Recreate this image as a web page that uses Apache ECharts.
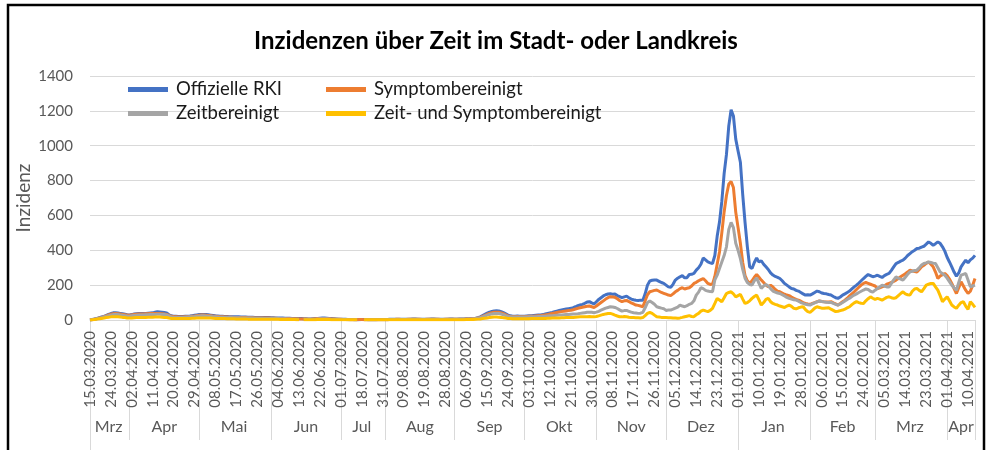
<!DOCTYPE html>
<html>
<head>
<meta charset="utf-8">
<script src="https://cdn.jsdelivr.net/npm/echarts@6/dist/echarts.min.js"></script>
<style>
  html, body { margin: 0; padding: 0; background: #fff; }
  #chart { width: 992px; height: 450px; }
</style>
</head>
<body>
<div id="chart"></div>
<script>
// Kategorien: Tage 15.03.2020 - 13.04.2021, einige Tage im Juli/August fehlen in den Daten
const monthNames = ['Jan', 'Feb', 'Mrz', 'Apr', 'Mai', 'Jun', 'Jul', 'Aug', 'Sep', 'Okt', 'Nov', 'Dez']
const skippedDays = [
  '03.07.2020', '04.07.2020', '05.07.2020', '06.07.2020', '07.07.2020', '08.07.2020', '09.07.2020', '10.07.2020',
  '21.07.2020', '22.07.2020', '23.07.2020', '24.07.2020',
  '15.08.2020'
]

// Offizielle RKI
const rkiValues = [
  0, 3, 6, 9, 13, 17, 21, 26, 32, 37, 41, 42, 40, 38, 36, 33, 30, // Mrz
  29, 31, 34, 36, 37, 38, 37, 38, 39, 40, 41, 44, 47, 46, 45, 43, 40, 30, 24, 22, 21, 20, 20, 20, 21, 22, 23, 25, 27, 29, // Apr
  31, 32, 32, 31, 30, 28, 26, 24, 23, 22, 21, 20, 20, 19, 19, 18, 18, 18, 17, 17, 17, 16, 16, 16, 15, 15, 15, 15, 14, 14, 14, // Mai
  13, 13, 12, 12, 11, 11, 10, 10, 10, 9, 9, 8, 8, 8, 7, 7, 6, 6, 7, 8, 9, 10, 11, 11, 10, 9, 8, 7, 6, 5, // Jun
  5, 4, 4, 3, 3, 3, 2, 2, 2, 3, 3, 3, 2, 2, 2, 2, 3, 3, 3, // Jul
  3, 3, 4, 4, 4, 5, 5, 4, 4, 4, 5, 5, 6, 6, 5, 5, 4, 4, 5, 5, 6, 6, 5, 5, 4, 4, 5, 5, 6, 6, // Aug
  5, 5, 6, 6, 6, 7, 7, 8, 9, 10, 13, 18, 25, 32, 39, 45, 49, 52, 53, 52, 48, 42, 35, 28, 24, 22, 22, 23, 22, 22, // Sep
  22, 23, 24, 25, 26, 27, 28, 29, 31, 34, 37, 40, 43, 47, 51, 55, 58, 61, 63, 65, 67, 71, 76, 82, 86, 90, 96, 103, 105, 98, 92, // Okt
  105, 118, 128, 138, 145, 149, 150, 148, 149, 140, 134, 128, 133, 137, 128, 120, 116, 113, 112, 114, 113, 150, 200, 224, 228, 230, 229, 222, 215, 210, // Nov
  200, 190, 187, 205, 229, 240, 248, 254, 242, 243, 261, 262, 267, 286, 300, 320, 356, 345, 333, 328, 324, 370, 480, 562, 680, 840, 950, 1114, 1206, 1171, 1038, // Dez
  970, 905, 720, 560, 420, 305, 295, 330, 356, 333, 340, 320, 305, 290, 270, 258, 250, 245, 238, 225, 210, 200, 190, 181, 178, 170, 166, 158, 150, 143, 145, // Jan
  143, 150, 158, 166, 162, 155, 152, 150, 146, 143, 135, 128, 124, 132, 143, 150, 158, 166, 178, 190, 200, 212, 225, 238, 250, 261, 255, 248, // Feb
  252, 257, 250, 244, 255, 262, 267, 285, 305, 324, 330, 338, 343, 355, 370, 381, 392, 400, 410, 412, 418, 423, 435, 448, 440, 429, 438, 448, 440, 420, 395, // Mrz
  360, 333, 305, 275, 251, 270, 305, 325, 343, 328, 345, 355, 371 // Apr
]

// Symptombereinigt
const symptomValues = [
  0, 2, 5, 8, 11, 15, 19, 24, 29, 33, 36, 37, 36, 34, 32, 30, 28,
  27, 29, 31, 33, 34, 35, 35, 36, 36, 37, 37, 38, 38, 37, 36, 34, 32, 26, 21, 19, 18, 17, 17, 17, 18, 19, 20, 22, 23, 25,
  27, 28, 28, 27, 26, 24, 22, 21, 20, 19, 18, 17, 17, 16, 16, 15, 15, 15, 14, 14, 14, 13, 13, 13, 12, 12, 12, 12, 11, 11, 11,
  10, 10, 10, 9, 9, 9, 8, 8, 8, 7, 7, 7, 6, 6, 6, 6, 5, 5, 6, 7, 8, 8, 9, 9, 8, 7, 6, 6, 5, 4,
  4, 3, 3, 3, 2, 2, 2, 2, 3, 3, 2, 2, 2, 2, 2, 2, 2, 2, 2,
  2, 2, 3, 3, 3, 4, 4, 3, 3, 3, 4, 4, 5, 5, 4, 4, 3, 3, 4, 4, 5, 5, 4, 4, 3, 3, 4, 4, 5, 5,
  4, 4, 5, 5, 5, 6, 6, 7, 8, 9, 11, 15, 21, 27, 33, 38, 42, 44, 45, 44, 41, 36, 30, 24, 20, 19, 19, 20, 19, 19,
  19, 20, 21, 22, 22, 23, 24, 25, 27, 29, 31, 34, 37, 40, 43, 46, 48, 50, 52, 54, 56, 59, 63, 67, 70, 73, 76, 79, 80, 76, 72,
  80, 90, 100, 110, 120, 128, 134, 132, 130, 122, 112, 105, 110, 112, 106, 98, 92, 86, 84, 80, 76, 110, 145, 162, 166, 170, 172, 165, 158, 153,
  148, 143, 140, 150, 162, 170, 180, 185, 178, 182, 185, 195, 210, 216, 225, 232, 238, 225, 210, 204, 206, 250, 320, 390, 500, 620, 714, 780, 794, 760, 619,
  530, 440, 330, 255, 225, 210, 225, 245, 261, 245, 229, 215, 200, 190, 200, 190, 175, 165, 162, 155, 148, 143, 140, 132, 125, 118, 114, 108, 100, 95, 92,
  90, 95, 100, 105, 109, 106, 104, 103, 104, 105, 98, 92, 86, 95, 105, 114, 125, 138, 150, 162, 175, 188, 200, 210, 215, 210, 205, 200,
  195, 181, 185, 190, 195, 205, 210, 215, 222, 229, 238, 248, 257, 265, 275, 286, 282, 278, 276, 290, 305, 314, 325, 333, 320, 305, 275, 238, 252, 260, 267,
  255, 235, 210, 180, 152, 185, 219, 195, 171, 152, 165, 200, 238
]

// Zeitbereinigt
const zeitValues = [
  0, 2, 4, 7, 10, 13, 17, 21, 25, 28, 31, 32, 31, 29, 27, 25, 23,
  22, 24, 26, 27, 28, 29, 29, 30, 30, 31, 31, 32, 33, 33, 32, 31, 29, 23, 18, 16, 15, 15, 15, 15, 16, 17, 18, 19, 20, 22,
  23, 24, 24, 23, 22, 21, 19, 18, 17, 16, 16, 15, 15, 14, 14, 13, 13, 13, 12, 12, 12, 11, 11, 11, 10, 10, 10, 10, 9, 9, 9,
  9, 8, 8, 8, 7, 7, 7, 6, 6, 6, 5, 5, 5, null, 5, 5, 4, 4, 5, 5, 6, 7, 7, 7, 7, 6, 5, 5, 4, 4,
  3, 3, 3, 2, 2, 2, 2, 2, null, null, 2, 2, 2, 2, 2, 2, 2, 2, 2,
  2, 2, 3, 3, 3, 3, 3, 3, 3, 3, 3, 4, 4, 4, 4, 3, 3, 3, 3, 4, 4, 4, 4, 3, 3, 3, 3, 4, 4, 4,
  4, 4, 4, 5, 5, 5, 6, 6, 7, 8, 10, 13, 18, 23, 28, 32, 35, 37, 38, 37, 34, 30, 25, 21, 18, 17, 17, 17, 17, 17,
  17, 17, 18, 18, 19, 19, 20, 20, 21, 22, 23, 24, 25, 26, 27, 28, 29, 30, 31, 32, 33, 34, 35, 36, 38, 40, 42, 44, 45, 44, 42,
  45, 50, 56, 62, 68, 72, 76, 75, 72, 66, 58, 51, 54, 55, 50, 45, 42, 40, 38, 39, 44, 70, 100, 109, 100, 90, 76, 72, 68, 65,
  55, 57, 57, 62, 68, 74, 86, 80, 76, 82, 90, 95, 110, 143, 160, 185, 180, 170, 166, 163, 162, 230, 257, 295, 333, 370, 420, 520, 560, 530, 440,
  400, 352, 290, 240, 215, 204, 200, 225, 242, 210, 181, 195, 204, 195, 180, 166, 160, 155, 152, 145, 138, 130, 124, 120, 116, 114, 108, 100, 95, 90, 88,
  86, 92, 98, 104, 109, 106, 104, 102, 101, 101, 95, 90, 86, 92, 100, 109, 118, 125, 135, 143, 150, 158, 165, 172, 178, 175, 165, 160,
  171, 181, 190, 200, 195, 190, 190, 210, 230, 248, 240, 235, 229, 245, 262, 276, 280, 284, 286, 300, 315, 324, 328, 333, 330, 326, 324, 300, 276, 266, 257,
  240, 220, 200, 185, 171, 215, 257, 262, 267, 230, 190, 195, 200
]

// Zeit- und Symptombereinigt
const zeitSymptomValues = [
  0, 1, 3, 5, 7, 9, 11, 14, 16, 18, 19, 19, 18, 17, 15, 14, 12,
  11, 12, 13, 14, 14, 15, 15, 15, 16, 16, 16, 17, 17, 17, 16, 15, 14, 11, 9, 8, 8, 8, 8, 8, 8, 9, 9, 10, 10, 11,
  12, 12, 12, 12, 11, 11, 10, 9, 9, 8, 8, 8, 7, 7, 7, 7, 6, 6, 6, 6, 6, 5, 5, 5, 5, 5, 5, 5, 4, 4, 4,
  4, 4, 4, 4, 3, 3, 3, 3, 3, 3, 3, 2, 2, null, 2, 2, 2, 2, 2, 2, 3, 3, 3, 3, 3, 3, 2, 2, 2, 2,
  1, 1, 1, 1, 1, 1, 1, 1, null, null, 1, 1, 1, 1, 1, 1, 1, 1, 1,
  1, 1, 1, 1, 1, 2, 2, 1, 1, 1, 2, 2, 2, 2, 2, 1, 1, 1, 2, 2, 2, 2, 2, 1, 1, 1, 2, 2, 2, 2,
  2, 2, 2, 2, 2, 3, 3, 3, 3, 4, 5, 6, 8, 10, 12, 14, 16, 17, 17, 16, 15, 13, 11, 9, 8, 7, 7, 7, 7, 7,
  7, 7, 7, 8, 8, 8, 8, 9, 9, 9, 10, 10, 11, 11, 12, 12, 13, 13, 14, 14, 15, 15, 16, 17, 18, 18, 19, 19, 20, 19, 18,
  20, 24, 28, 32, 35, 37, 38, 34, 28, 23, 19, 18, 20, 19, 16, 14, 14, 13, 13, 12, 14, 25, 38, 44, 38, 28, 19, 17, 15, 14,
  14, 13, 13, 12, 11, 10, 12, 15, 19, 22, 25, 20, 19, 30, 38, 51, 57, 52, 48, 55, 67, 95, 124, 115, 105, 128, 152, 158, 162, 150, 133,
  140, 147, 120, 95, 100, 110, 124, 135, 143, 115, 86, 100, 118, 124, 105, 95, 90, 86, 80, 76, 72, 80, 86, 78, 67, 64, 70, 74, 76, 60, 48,
  44, 55, 68, 76, 72, 68, 67, 69, 70, 62, 55, 48, 50, 54, 57, 62, 70, 76, 88, 98, 105, 100, 96, 95, 110, 122, 133, 125,
  118, 124, 120, 114, 122, 130, 133, 128, 124, 128, 140, 152, 162, 150, 145, 143, 165, 178, 181, 170, 162, 180, 200, 205, 210, 210, 190, 171, 140, 105, 120,
  133, 110, 86, 75, 67, 85, 100, 105, 80, 61, 105, 90, 72
]

// Kategorien aufbauen
const dateLabels = []
const monthLabels = []
const monthStarts = []
const yearStarts = []
let day = new Date(Date.UTC(2020, 2, 15))
const lastDay = new Date(Date.UTC(2021, 3, 13))
while (day <= lastDay) {
  let dd = String(day.getUTCDate()).padStart(2, '0')
  let mm = String(day.getUTCMonth() + 1).padStart(2, '0')
  let label = dd + '.' + mm + '.' + day.getUTCFullYear()
  if (!skippedDays.includes(label)) {
    if (dateLabels.length === 0 || day.getUTCDate() === 1) monthStarts.push(dateLabels.length)
    if (dateLabels.length === 0 || (day.getUTCDate() === 1 && day.getUTCMonth() === 0)) yearStarts.push(dateLabels.length)
    dateLabels.push(label)
    monthLabels.push(monthNames[day.getUTCMonth()])
  }
  day.setUTCDate(day.getUTCDate() + 1)
}
const monthCenters = monthStarts.map((s, k) => {
  let next = k + 1 < monthStarts.length ? monthStarts[k + 1] : dateLabels.length - 1
  return Math.floor((s + next) / 2)
})
// Trennlinie auch am Ende der Achse
const monthTicks = monthStarts.concat([dateLabels.length - 1])

const fontName = 'Lato'
const gridColor = '#D9D9D9'
const labelColor = '#595959'

function lineSeries (name, values, color) {
  return {
    name: name,
    type: 'line',
    data: values,
    showSymbol: false,
    symbol: 'none',
    lineStyle: { width: 3, color: color },
    itemStyle: { color: color },
    xAxisIndex: 0
  }
}

let legendBase = {
  orient: 'vertical',
  top: 80,
  padding: 0,
  icon: 'rect',
  itemWidth: 40,
  itemHeight: 5,
  itemGap: 5,
  textStyle: { fontFamily: fontName, fontSize: 18.5, color: '#1a1a1a', padding: [0, 0, 0, 3] }
}

let option = {
  animation: false,
  backgroundColor: '#fff',
  textStyle: { fontFamily: fontName },
  title: {
    text: 'Inzidenzen über Zeit im Stadt- oder Landkreis',
    left: 'center',
    top: 24,
    textStyle: { fontFamily: fontName, fontSize: 24, fontWeight: 'bold', color: '#000' }
  },
  graphic: [
    {
      type: 'rect',
      shape: { x: 8, y: 5, width: 976, height: 480 },
      style: { fill: 'none', stroke: '#000', lineWidth: 2.5 },
      silent: true,
      z: 100
    }
  ],
  legend: [
    Object.assign({}, legendBase, { data: ['Offizielle RKI', 'Zeitbereinigt'], left: 128 }),
    Object.assign({}, legendBase, { data: ['Symptombereinigt', 'Zeit- und Symptombereinigt'], left: 326 })
  ],
  grid: {
    left: 90,
    right: 17,
    top: 76,
    bottom: 130
  },
  xAxis: [
    {
      type: 'category',
      data: dateLabels,
      boundaryGap: false,
      axisLine: { lineStyle: { color: gridColor, width: 1 } },
      axisTick: { show: false },
      axisLabel: {
        interval: 8,
        rotate: 90,
        margin: 11,
        fontSize: 15,
        color: labelColor
      },
      splitLine: { show: false }
    },
    {
      type: 'category',
      data: monthLabels,
      boundaryGap: false,
      position: 'bottom',
      axisLine: { show: false },
      axisTick: {
        show: true,
        length: 120,
        interval: (idx) => monthTicks.includes(idx),
        lineStyle: { color: gridColor }
      },
      axisLabel: {
        interval: (idx) => monthCenters.includes(idx),
        margin: 99,
        fontSize: 16,
        color: labelColor
      },
      splitLine: { show: false }
    },
    {
      type: 'category',
      data: dateLabels,
      boundaryGap: false,
      position: 'bottom',
      axisLine: { show: false },
      axisTick: {
        show: true,
        length: 140,
        interval: (idx) => yearStarts.includes(idx),
        lineStyle: { color: gridColor }
      },
      axisLabel: { show: false },
      splitLine: { show: false }
    }
  ],
  yAxis: {
    type: 'value',
    min: 0,
    max: 1400,
    interval: 200,
    name: 'Inzidenz',
    nameLocation: 'middle',
    nameGap: 57,
    nameMoveOverlap: false,
    nameTextStyle: { fontFamily: fontName, fontSize: 19, color: labelColor },
    axisLine: { show: false },
    axisTick: { show: false },
    axisLabel: { fontSize: 15, color: labelColor, margin: 17, formatter: (v) => String(v) },
    splitLine: { lineStyle: { color: gridColor, width: 1 } }
  },
  series: [
    lineSeries('Offizielle RKI', rkiValues, '#4472C4'),
    lineSeries('Symptombereinigt', symptomValues, '#ED7D31'),
    lineSeries('Zeitbereinigt', zeitValues, '#A5A5A5'),
    lineSeries('Zeit- und Symptombereinigt', zeitSymptomValues, '#FFC000')
  ]
}

let myChart = echarts.init(document.getElementById('chart'), null, { renderer: 'canvas' })
myChart.setOption(option)
</script>
</body>
</html>
